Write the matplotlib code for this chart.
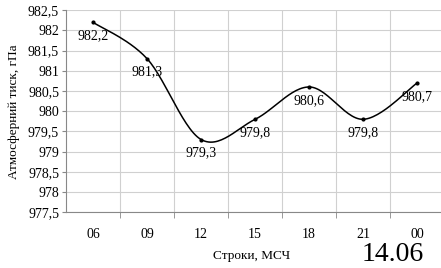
import numpy as np
import matplotlib.pyplot as plt

plt.rcParams['font.family'] = ['Liberation Serif', 'DejaVu Serif']

hours = ['06', '09', '12', '15', '18', '21', '00']
pressure = [982.2, 981.3, 979.3, 979.8, 980.6, 979.8, 980.7]
yticks = [977.5, 978, 978.5, 979, 979.5, 980, 980.5, 981, 981.5, 982, 982.5]


def smooth(x, y, n=30):
    # catmull-rom style smoothing like the spreadsheet's smoothed line
    px = np.concatenate([[x[0]], x, [x[-1]]])
    py = np.concatenate([[y[0]], y, [y[-1]]])
    xs, ys = [], []
    for i in range(1, len(px) - 2):
        t = np.linspace(0, 1, n)
        for arr, out in ((px, xs), (py, ys)):
            p0, p1, p2, p3 = arr[i - 1], arr[i], arr[i + 1], arr[i + 2]
            m1 = (p2 - p0) / 2
            m2 = (p3 - p1) / 2
            h00 = 2 * t**3 - 3 * t**2 + 1
            h10 = t**3 - 2 * t**2 + t
            h01 = -2 * t**3 + 3 * t**2
            h11 = t**3 - t**2
            out.extend(h00 * p1 + h10 * m1 + h01 * p2 + h11 * m2)
    return np.array(xs), np.array(ys)


x = np.arange(len(hours), dtype=float)
y = np.array(pressure)

fig = plt.figure(figsize=(4.41, 2.68), dpi=100)
ax = fig.add_axes([66 / 441, 0.208, 1 - 66 / 441, 0.754])

sx, sy = smooth(x, y)
ax.plot(sx, sy, color='black', lw=1.1, zorder=3)
ax.plot(x, y, 'o', color='black', ms=2, zorder=4)

for xi, yi in zip(x, y):
    ax.annotate(f'{yi:.1f}'.replace('.', ','), (xi, yi), xytext=(0, -5),
                textcoords='offset points', ha='center', va='top', fontsize=10)

ax.set_xlim(-0.5, 6.44)
ax.set_ylim(977.5, 982.5)
ax.set_xticks(x)
ax.set_xticklabels(hours, fontsize=10)
ax.set_xticks(np.arange(0.5, 6.5, 1), minor=True)
ax.tick_params(axis='x', which='major', length=0, pad=11)
ax.tick_params(axis='x', which='minor', length=4, color='#888888')
ax.set_yticks(yticks)
ax.set_yticklabels([f'{v:g}'.replace('.', ',') for v in yticks], fontsize=10)
ax.tick_params(axis='y', length=3, color='#888888', pad=2)
ax.grid(True, axis='y', color='#d0d0d0', lw=0.8)
ax.grid(True, axis='x', which='minor', color='#d0d0d0', lw=0.8)
for s in ['top', 'right']:
    ax.spines[s].set_visible(False)
for s in ['left', 'bottom']:
    ax.spines[s].set_color('#888888')
ax.set_ylabel('Атмосферний тиск, гПа', fontsize=9.5, labelpad=6)
fig.text(252 / 441, 1 - 256 / 268, 'Строки, МСЧ', ha='center', va='center', fontsize=9.5)
fig.text(362 / 441, 1 / 268, '14.06', ha='left', va='bottom', fontsize=20)

fig.savefig('out.png', dpi=100)
